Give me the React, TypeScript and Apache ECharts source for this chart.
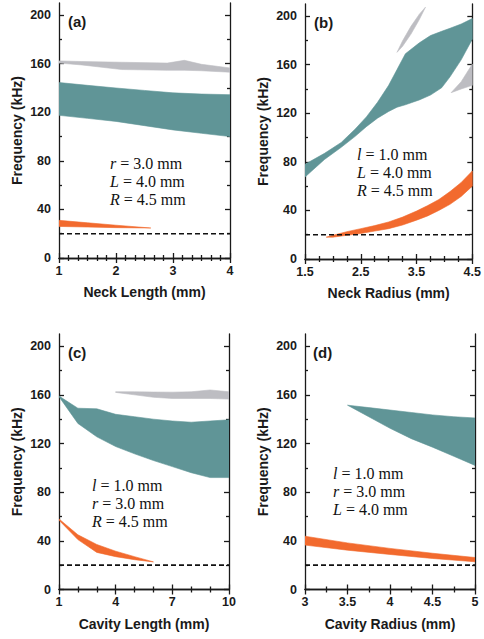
import React, { useEffect, useRef } from 'react';
import * as echarts from 'echarts';

// ---------- data ----------
const THRESHOLD_KHZ = 20;

// (a) Neck Length
const aTealX = [1, 1.5, 2, 2.5, 3, 3.5, 4];
const aTealUpper = [144.5, 142.2, 140, 138, 136, 135, 134.5];
const aTealLower = [117.5, 115, 112.5, 109, 105.5, 102.7, 100];
const aGrayX = [1.0, 1.4, 2.1, 2.9, 3.2, 3.5, 4.0];
const aGrayUpper = [162.3, 161.8, 161.2, 160.5, 162.8, 159.5, 156.5];
const aGrayLower = [160.5, 159, 155.2, 154.6, 154.6, 154.2, 153];
const aOrangeX = [1, 1.5, 2, 2.61];
const aOrangeUpper = [31, 29, 27, 24.7];
const aOrangeLower = [26, 25.5, 25, 24.7];

// (b) Neck Radius
const bTealX = [1.5, 1.85, 2.15, 2.4, 2.6, 2.8, 3.0, 3.15, 3.3, 3.55, 3.75, 3.95, 4.1, 4.3, 4.5];
const bTealUpper = [78, 87, 96, 107, 117, 129, 143, 156, 169, 178, 184, 187.5, 190, 193.5, 198];
const bTealLower = [67.5, 82, 92, 101, 109, 116, 121.5, 125, 127, 131, 135, 141, 150, 164, 181];
const bGray1X = [3.15, 3.25, 3.4, 3.55, 3.66];
const bGray1Upper = [170.2, 179.7, 191.6, 201.6, 207.4];
const bGray1Lower = [170.2, 175.2, 185.2, 197.2, 207.4];
const bGray2X = [4.12, 4.3, 4.5];
const bGray2Upper = [137, 146, 160.5];
const bGray2Lower = [137, 140, 143];
const bOrangeX = [1.88, 2.0, 2.25, 2.5, 2.75, 3.0, 3.25, 3.5, 3.7, 3.9, 4.1, 4.3, 4.5];
const bOrangeUpper = [18, 19.5, 22.5, 25, 27.5, 30.5, 34.5, 39.5, 44, 49, 55.5, 63, 72.5];
const bOrangeLower = [18, 18, 19.5, 21, 23, 25, 28, 32, 35.5, 40, 45, 51.5, 60];

// (c) Cavity Length
const cTealX = [1, 2, 3, 4, 5, 6, 7, 8, 9, 10];
const cTealUpper = [159, 149, 148.5, 144, 142, 140, 138.5, 137.5, 138.5, 139.5];
const cTealLower = [158.5, 136.5, 125.5, 117.5, 111.5, 106, 101, 96, 92, 92];
const cGrayX = [4.0, 5, 6, 7, 8, 9, 10];
const cGrayUpper = [162.5, 162.5, 162.3, 162.2, 162.5, 164, 162.5];
const cGrayLower = [162, 160, 158, 157, 157, 157, 156.5];
const cOrangeX = [1, 2, 3, 4, 5, 6];
const cOrangeUpper = [58, 45, 37, 31.5, 27, 22.7];
const cOrangeLower = [57, 41, 30.5, 27, 24.5, 22.7];

// (d) Cavity Radius
const dTealX = [3.5, 3.75, 4.0, 4.25, 4.5, 4.75, 5.0];
const dTealUpper = [151.5, 149.5, 147.5, 145.5, 143.5, 142, 141];
const dTealLower = [151.5, 142, 132.5, 124, 117, 109.5, 102];
const dOrangeX = [3, 3.5, 4, 4.5, 5];
const dOrangeUpper = [43.8, 38.3, 33.8, 29.8, 26.3];
const dOrangeLower = [36.5, 32.3, 28.8, 25.5, 22.8];

// ticks
const yMajor = [0, 40, 80, 120, 160, 200];
const yMinor = [20, 60, 100, 140, 180];
const aXMajor = [1, 2, 3, 4];
const aXMinorStep = 1 / 6;
const bXMajor = [1.5, 2.5, 3.5, 4.5];
const bXMinorStep = 0.25;
const cXMajor = [1, 4, 7, 10];
const cXMinorStep = 1;
const dXMajor = [3, 3.5, 4, 4.5, 5];
const dXMinorStep = 0.25;

const xNames = ['Neck Length (mm)', 'Neck Radius (mm)', 'Cavity Length (mm)', 'Cavity Radius (mm)'];
const panelTags = ['(a)', '(b)', '(c)', '(d)'];
const annotations = [
  [['r', ' = 3.0 mm'], ['L', ' = 4.0 mm'], ['R', ' = 4.5 mm']],
  [['l', ' = 1.0 mm'], ['L', ' = 4.0 mm'], ['R', ' = 4.5 mm']],
  [['l', ' = 1.0 mm'], ['r', ' = 3.0 mm'], ['R', ' = 4.5 mm']],
  [['l', ' = 1.0 mm'], ['r', ' = 3.0 mm'], ['L', ' = 4.0 mm']],
];

// ---------- styling ----------
const TEAL = '#609597';
const ORANGE = '#f26a2e';
const GRAY = '#bdbdc2';
const INK = '#1a1a1a';
const SANS = '"Liberation Sans", Arial, sans-serif';
const SERIF = '"Liberation Serif", "Times New Roman", serif';

const grids = [
  { left: 59, top: 3, width: 171, height: 255 },
  { left: 305, top: 4, width: 170, height: 255 },
  { left: 59, top: 334, width: 170, height: 255.5 },
  { left: 305, top: 334, width: 170, height: 255.5 },
];
const xRanges = [[1, 4], [1.5, 4.5], [1, 10], [3, 5]];
const xMajors = [aXMajor, bXMajor, cXMajor, dXMajor];
const xSteps = [aXMinorStep, bXMinorStep, cXMinorStep, dXMinorStep];
const annotPos = [
  { x: 110, ys: [163, 181.5, 199.5] },
  { x: 357, ys: [154.5, 172.5, 190.5] },
  { x: 92, ys: [485.5, 503.5, 521.5] },
  { x: 333, ys: [473.5, 491.5, 509.5] },
];
const tagPos = [
  { x: 68, y: 21 },
  { x: 314, y: 22 },
  { x: 68, y: 352 },
  { x: 313, y: 352 },
];

function minorTicks(min: number, max: number, step: number, majors: number[]) {
  const out: number[] = [];
  const n = Math.round((max - min) / step);
  for (let i = 1; i < n; i++) {
    const v = +(min + i * step).toFixed(6);
    if (!majors.some((m) => Math.abs(m - v) < 1e-6)) out.push(v);
  }
  return out;
}

function band(p: number, xs: number[], lo: number[], hi: number[], color: string) {
  const data = xs.map((x, i) => [x, lo[i], hi[i]]);
  return {
    type: 'custom',
    xAxisIndex: p * 4,
    yAxisIndex: p * 4,
    clip: true,
    silent: true,
    data,
    encode: { x: 0, y: [1, 2] },
    renderItem: (params: any, api: any) => {
      if (params.dataIndex !== 0) return null;
      const top = data.map((d) => api.coord([d[0], d[2]]));
      const bot = data
        .slice()
        .reverse()
        .map((d) => api.coord([d[0], d[1]]));
      return {
        type: 'polygon',
        shape: { points: [...top, ...bot] },
        style: { fill: color, stroke: color, lineWidth: 0.6, lineJoin: 'round' },
      };
    },
  };
}

function threshold(p: number) {
  const [a, b] = xRanges[p];
  return {
    type: 'line',
    xAxisIndex: p * 4,
    yAxisIndex: p * 4,
    data: [
      [a, THRESHOLD_KHZ],
      [b, THRESHOLD_KHZ],
    ],
    symbol: 'none',
    silent: true,
    lineStyle: { color: '#111', width: 1.6, type: [5, 3] },
    z: 5,
  };
}

function buildOption() {
  const xAxis: any[] = [];
  const yAxis: any[] = [];
  const lineStyle = { color: INK, width: 1.3 };
  for (let p = 0; p < 4; p++) {
    const [min, max] = xRanges[p];
    const majors = xMajors[p];
    const minors = minorTicks(min, max, xSteps[p], majors);
    const common = { type: 'value', gridIndex: p, min, max, splitLine: { show: false } };
    xAxis.push({
      ...common,
      position: 'bottom',
      name: xNames[p],
      nameLocation: 'middle',
      nameGap: 27,
      nameTextStyle: { fontFamily: SANS, fontWeight: 'bold', fontSize: 14, color: INK },
      axisLine: { show: true, lineStyle },
      axisTick: { show: true, inside: true, length: 5, customValues: majors, lineStyle },
      axisLabel: {
        show: true,
        customValues: majors,
        margin: 6,
        fontFamily: SANS,
        fontWeight: 'bold',
        fontSize: 12.5,
        color: INK,
        hideOverlap: false,
      },
    });
    xAxis.push({
      ...common,
      position: 'bottom',
      axisLine: { show: false },
      axisTick: { show: true, inside: true, length: 3, customValues: minors, lineStyle },
      axisLabel: { show: false },
    });
    xAxis.push({
      ...common,
      position: 'top',
      axisLine: { show: true, lineStyle },
      axisTick: { show: true, inside: true, length: 5, customValues: majors, lineStyle },
      axisLabel: { show: false },
    });
    xAxis.push({
      ...common,
      position: 'top',
      axisLine: { show: false },
      axisTick: { show: true, inside: true, length: 3, customValues: minors, lineStyle },
      axisLabel: { show: false },
    });

    const yc = { type: 'value', gridIndex: p, min: 0, max: 210, splitLine: { show: false } };
    yAxis.push({
      ...yc,
      position: 'left',
      name: 'Frequency (kHz)',
      nameLocation: 'middle',
      nameGap: 35,
      nameRotate: 90,
      nameTextStyle: { fontFamily: SANS, fontWeight: 'bold', fontSize: 14, color: INK },
      axisLine: { show: true, lineStyle },
      axisTick: { show: true, inside: true, length: 5, customValues: yMajor, lineStyle },
      axisLabel: {
        show: true,
        customValues: yMajor,
        margin: 8,
        fontFamily: SANS,
        fontWeight: 'bold',
        fontSize: 12.5,
        color: INK,
      },
    });
    yAxis.push({
      ...yc,
      position: 'left',
      axisLine: { show: false },
      axisTick: { show: true, inside: true, length: 3, customValues: yMinor, lineStyle },
      axisLabel: { show: false },
    });
    yAxis.push({
      ...yc,
      position: 'right',
      axisLine: { show: true, lineStyle },
      axisTick: { show: true, inside: true, length: 5, customValues: yMajor, lineStyle },
      axisLabel: { show: false },
    });
    yAxis.push({
      ...yc,
      position: 'right',
      axisLine: { show: false },
      axisTick: { show: true, inside: true, length: 3, customValues: yMinor, lineStyle },
      axisLabel: { show: false },
    });
  }

  const series: any[] = [
    band(0, aGrayX, aGrayLower, aGrayUpper, GRAY),
    band(0, aTealX, aTealLower, aTealUpper, TEAL),
    band(0, aOrangeX, aOrangeLower, aOrangeUpper, ORANGE),
    threshold(0),
    band(1, bGray1X, bGray1Lower, bGray1Upper, GRAY),
    band(1, bGray2X, bGray2Lower, bGray2Upper, GRAY),
    band(1, bTealX, bTealLower, bTealUpper, TEAL),
    band(1, bOrangeX, bOrangeLower, bOrangeUpper, ORANGE),
    threshold(1),
    band(2, cGrayX, cGrayLower, cGrayUpper, GRAY),
    band(2, cTealX, cTealLower, cTealUpper, TEAL),
    band(2, cOrangeX, cOrangeLower, cOrangeUpper, ORANGE),
    threshold(2),
    band(3, dTealX, dTealLower, dTealUpper, TEAL),
    band(3, dOrangeX, dOrangeLower, dOrangeUpper, ORANGE),
    threshold(3),
  ];

  const graphic: any[] = [];
  for (let p = 0; p < 4; p++) {
    graphic.push({
      type: 'text',
      x: tagPos[p].x,
      y: tagPos[p].y,
      silent: true,
      style: {
        text: panelTags[p],
        fontFamily: SANS,
        fontWeight: 'bold',
        fontSize: 15,
        fill: INK,
        verticalAlign: 'middle',
        align: 'left',
      },
    });
    annotations[p].forEach(([v, rest], i) => {
      graphic.push({
        type: 'text',
        x: annotPos[p].x,
        y: annotPos[p].ys[i],
        silent: true,
        style: {
          text: `{i|${v}}{n|${rest}}`,
          fontFamily: SERIF,
          fontSize: 16,
          fill: '#111',
          verticalAlign: 'middle',
          align: 'left',
          rich: {
            i: { fontFamily: SERIF, fontSize: 16, fontStyle: 'italic', fill: '#111' },
            n: { fontFamily: SERIF, fontSize: 16, fill: '#111' },
          },
        },
      });
    });
  }

  return {
    animation: false,
    backgroundColor: '#ffffff',
    grid: grids.map((g) => ({ ...g, containLabel: false })),
    xAxis,
    yAxis,
    series,
    graphic,
  };
}

export default function App() {
  const ref = useRef<HTMLDivElement>(null);
  useEffect(() => {
    if (!ref.current) return;
    const chart = echarts.init(ref.current, undefined, { renderer: 'svg' });
    chart.setOption(buildOption() as any);
    return () => chart.dispose();
  }, []);
  return (
    <div
      ref={ref}
      style={{ position: 'fixed', left: 0, top: 0, width: 484, height: 639, background: '#fff' }}
    />
  );
}
